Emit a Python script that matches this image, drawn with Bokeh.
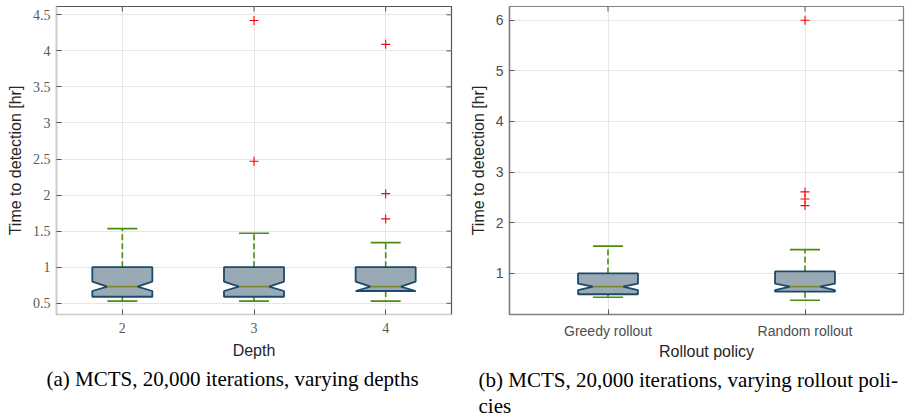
import math
from bokeh.plotting import figure
from bokeh.layouts import row
from bokeh.models import Range1d, FixedTicker, Title
from bokeh.embed import file_html
from bokeh.resources import INLINE

# ---------------- data: panel (a) ----------------
depth_pos = [2, 3, 4]
depth_labels = ["2", "3", "4"]
d_q1 = [0.59, 0.59, 0.67]
d_med = [0.73, 0.73, 0.73]
d_q3 = [1.00, 1.00, 1.00]
d_notch_lo = [0.67, 0.67, 0.67]
d_notch_hi = [0.80, 0.80, 0.80]
d_whisk_lo = [0.53, 0.53, 0.53]
d_whisk_hi = [1.535, 1.47, 1.34]
d_out_x = [3, 3, 4, 4, 4]
d_out_y = [4.42, 2.47, 4.09, 2.02, 1.67]
d_yticks = [0.5, 1.0, 1.5, 2.0, 2.5, 3.0, 3.5, 4.0, 4.5]
d_ytick_labels = ["0.5", "1", "1.5", "2", "2.5", "3", "3.5", "4", "4.5"]

# ---------------- data: panel (b) ----------------
policy_pos = [1, 2]
policy_labels = ["Greedy rollout", "Random rollout"]
r_q1 = [0.59, 0.64]
r_med = [0.74, 0.74]
r_q3 = [1.00, 1.04]
r_notch_lo = [0.67, 0.67]
r_notch_hi = [0.80, 0.80]
r_whisk_lo = [0.53, 0.47]
r_whisk_hi = [1.54, 1.47]
r_out_x = [2, 2, 2, 2]
r_out_y = [6.0, 2.61, 2.47, 2.34]
r_yticks = [1, 2, 3, 4, 5, 6]
r_ytick_labels = ["1", "2", "3", "4", "5", "6"]

BOX_FILL = "#9aaab5"
BOX_EDGE = "#1b4a6b"
MED_COL = "#7f8a2e"
WHISK_COL = "#4a8c0c"
OUT_COL = "#ff0000"
GRID_COL = "#e6e6e6"
TICK_COL = "#555555"


def boxes(p, pos, q1, med, q3, nlo, nhi, wlo, whi, ox, oy, hw):
    n = hw / 2.0
    xs, ys = [], []
    for x, a, m, b, lo, hi in zip(pos, q1, med, q3, nlo, nhi):
        lo = max(lo, a)
        xs.append([x - hw, x + hw, x + hw, x + n, x + hw, x + hw, x - hw, x - hw, x - n, x - hw])
        ys.append([b, b, hi, m, lo, a, a, lo, m, hi])
    p.segment(x0=pos, y0=q3, x1=pos, y1=whi, line_color=WHISK_COL, line_width=1.6, line_dash="6 3")
    p.segment(x0=pos, y0=q1, x1=pos, y1=wlo, line_color=WHISK_COL, line_width=1.6, line_dash="6 3")
    p.segment(x0=[x - n for x in pos], y0=whi, x1=[x + n for x in pos], y1=whi, line_color=WHISK_COL, line_width=1.6)
    p.segment(x0=[x - n for x in pos], y0=wlo, x1=[x + n for x in pos], y1=wlo, line_color=WHISK_COL, line_width=1.6)
    p.patches(xs=xs, ys=ys, fill_color=BOX_FILL, fill_alpha=1.0, line_color=BOX_EDGE, line_width=1.8)
    p.segment(x0=[x - n for x in pos], y0=med, x1=[x + n for x in pos], y1=med, line_color=MED_COL, line_width=1.6)
    p.scatter(x=ox, y=oy, marker="cross", size=9, line_color=OUT_COL, line_width=1.1)


def style(p, xticks, xlabels, yticks, ylabels, tick_font, tick_color, low_axis_col, hi_axis_col,
          label_standoff, xlabel_standoff):
    p.xaxis.ticker = FixedTicker(ticks=xticks)
    p.xaxis.major_label_overrides = dict(zip(xticks, xlabels))
    p.yaxis.ticker = FixedTicker(ticks=yticks)
    p.yaxis.major_label_overrides = dict(zip(yticks, ylabels))
    p.xgrid.ticker = FixedTicker(ticks=xticks)
    p.ygrid.ticker = FixedTicker(ticks=yticks)
    p.grid.grid_line_color = GRID_COL
    p.grid.grid_line_width = 1
    for ax in (p.xaxis[0], p.yaxis[0]):
        ax.major_label_text_font = tick_font
        ax.major_label_text_font_size = "14px"
        ax.major_label_text_color = tick_color
        ax.axis_label_text_font = "Liberation Sans"
        ax.axis_label_text_font_size = "16px"
        ax.axis_label_text_font_style = "normal"
        ax.axis_label_text_color = "#262626"
        ax.major_tick_in = 5
        ax.major_tick_out = 0
        ax.minor_tick_line_color = None
        ax.major_tick_line_color = TICK_COL
        ax.axis_line_color = low_axis_col
        ax.axis_line_width = 1.5
        ax.axis_label_standoff = 6
    p.xaxis.major_label_standoff = label_standoff
    p.xaxis.axis_label_standoff = xlabel_standoff
    p.yaxis.major_label_standoff = 6
    p.outline_line_color = hi_axis_col
    p.outline_line_width = 1.2
    # mirrored inward ticks on the top and right edges (half of each dash is clipped by the frame)
    xr, yr = p.x_range, p.y_range
    p.scatter(x=xticks, y=[yr.end] * len(xticks), marker="dash", size=10, angle=math.pi / 2,
              line_color=TICK_COL, line_width=1)
    p.scatter(x=[xr.end] * len(yticks), y=yticks, marker="dash", size=10,
              line_color=TICK_COL, line_width=1)


def caption(p, text, offset, standoff):
    p.add_layout(Title(text=text, align="left", offset=offset,
                       text_font="Liberation Serif", text_font_size="21px",
                       text_font_style="normal", text_color="black", standoff=standoff,
                       text_line_height=1.1), "below")


# ---------------- panel (a) ----------------
p1 = figure(frame_width=395, frame_height=308, output_backend="svg", toolbar_location=None,
            x_range=Range1d(1.5, 4.5), y_range=Range1d(0.344, 4.615),
            min_border_left=56, min_border_right=15, min_border_top=6, min_border_bottom=0,
            x_axis_label="Depth", y_axis_label="Time to detection [hr]")
boxes(p1, depth_pos, d_q1, d_med, d_q3, d_notch_lo, d_notch_hi, d_whisk_lo, d_whisk_hi,
      d_out_x, d_out_y, 0.228)
style(p1, depth_pos, depth_labels, d_yticks, d_ytick_labels, "Liberation Serif", "#5a5a5a",
      "#cccccc", "#555555", 8, 6)
caption(p1, "(a) MCTS, 20,000 iterations, varying depths", -10, 7)

# ---------------- panel (b) ----------------
p2 = figure(frame_width=394, frame_height=308, output_backend="svg", toolbar_location=None,
            x_range=Range1d(0.5, 2.5), y_range=Range1d(0.19, 6.27),
            min_border_left=42, min_border_right=4, min_border_top=6, min_border_bottom=0,
            x_axis_label="Rollout policy", y_axis_label="Time to detection [hr]")
boxes(p2, policy_pos, r_q1, r_med, r_q3, r_notch_lo, r_notch_hi, r_whisk_lo, r_whisk_hi,
      r_out_x, r_out_y, 0.152)
style(p2, policy_pos, policy_labels, r_yticks, r_ytick_labels, "Liberation Sans", "#4d4d4d",
      "#808080", "#808080", 8, 1)
caption(p2, "(b) MCTS, 20,000 iterations, varying rollout poli-\ncies", -31, 7)

layout = row(p1, p2)
open("out.html", "w").write(file_html(layout, INLINE))
